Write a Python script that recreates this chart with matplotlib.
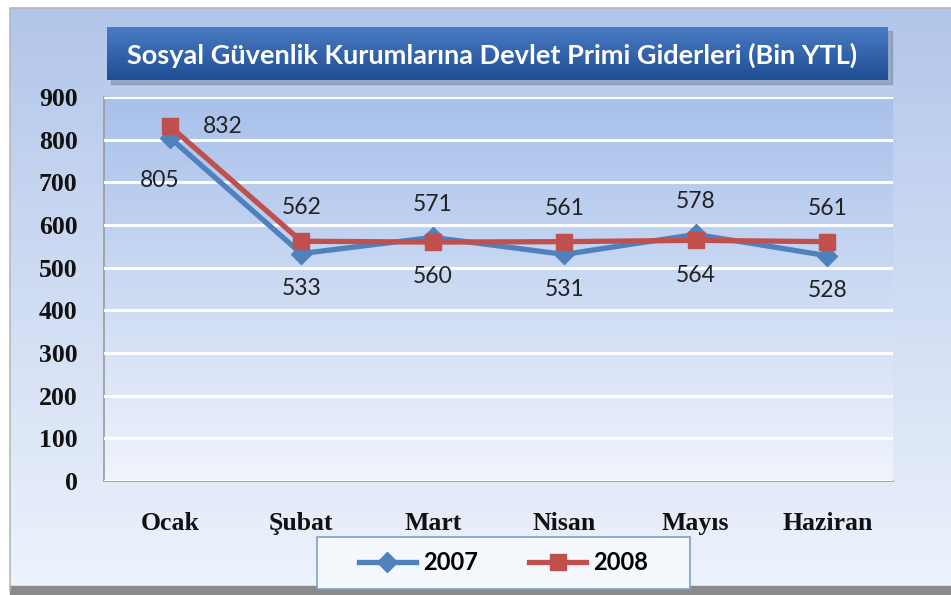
import matplotlib.pyplot as plt
import matplotlib.patches as patches
import numpy as np

months = ['Ocak', 'Şubat', 'Mart', 'Nisan', 'Mayıs', 'Haziran']
y2007 = [805, 533, 571, 531, 578, 528]
y2008 = [832, 562, 560, 561, 564, 561]
title = 'Sosyal Güvenlik Kurumlarına Devlet Primi Giderleri (Bin YTL)'

blue = '#4f81bd'
red = '#c0504d'


def gradient(ax, extent, top, bottom, z=0):
    c0 = np.array(plt.matplotlib.colors.to_rgb(top))
    c1 = np.array(plt.matplotlib.colors.to_rgb(bottom))
    t = np.linspace(0, 1, 256)[:, None, None]
    img = c0 * (1 - t) + c1 * t
    img = np.repeat(img, 2, axis=1)
    ax.imshow(img, extent=extent, aspect='auto', zorder=z, origin='upper')


def main():
    fig = plt.figure(figsize=(9.51, 5.95), dpi=100)
    fig.patch.set_facecolor('white')

    # background layer in pixel coordinates
    bg = fig.add_axes([0, 0, 1, 1])
    bg.set_xlim(0, 951)
    bg.set_ylim(595, 0)
    bg.axis('off')
    gradient(bg, (10, 951, 590, 8), '#b2c6ea', '#eef3fc')
    bg.plot([10, 10, 951], [590, 8, 8], color='#b8b8b8', lw=1.2)
    bg.add_patch(patches.Rectangle((10, 586), 941, 9, color='#8a8a8a'))
    # title box
    bg.add_patch(patches.Rectangle((111, 31), 781, 53, color='#7d8fa8', alpha=0.6, zorder=1))
    gradient(bg, (107, 888, 80, 27), '#4a7cc4', '#1e4d92', z=2)
    bg.text(492, 55, title, color='white', fontsize=19.5, fontweight='bold',
            family='Lato', ha='center', va='center', zorder=3)
    # legend box
    bg.add_patch(patches.Rectangle((317, 537), 373, 52, facecolor='#f4f7fc',
                                   edgecolor='#7f9fcf', lw=1.2, zorder=2))
    bg.set_xlim(0, 951)
    bg.set_ylim(595, 0)

    ax = fig.add_axes([104 / 951, 1 - 481 / 595, 789 / 951, 384 / 595])
    ax.set_facecolor('none')
    gradient(ax, (-0.5, 5.5, 0, 900), '#a8c0ea', '#f0f4fc', z=0)

    x = np.arange(len(months))
    ax.plot(x, y2007, color=blue, lw=3.8, marker='D', markersize=10,
            label='2007', zorder=3)
    ax.plot(x, y2008, color=red, lw=3.8, marker='s', markersize=12,
            label='2008', zorder=4)

    ax.set_xlim(-0.5, 5.5)
    ax.set_ylim(0, 900)
    ax.set_yticks(range(0, 901, 100))
    ax.set_xticks(x)
    ax.set_xticklabels(months)
    ax.grid(axis='y', color='white', lw=2.2, zorder=1)
    ax.set_axisbelow(False)
    ax.tick_params(length=0)
    ax.tick_params(axis='y', pad=19)
    ax.tick_params(axis='x', pad=22)
    for lab in ax.get_xticklabels() + ax.get_yticklabels():
        lab.set_family('Liberation Serif')
        lab.set_fontweight('bold')
        lab.set_fontsize(18.5)
        lab.set_color('#111111')
    for s in ['top', 'right']:
        ax.spines[s].set_visible(False)
    for s in ['left', 'bottom']:
        ax.spines[s].set_color('#9a9a9a')
        ax.spines[s].set_linewidth(1.2)

    lab_kw = dict(textcoords='offset points', ha='center', va='center',
                  fontsize=16.5, family='Lato', color='#222222', zorder=5)
    ax.annotate(str(y2008[0]), (0, y2008[0]), xytext=(38, 0), **lab_kw)
    ax.annotate(str(y2007[0]), (0, y2007[0]), xytext=(-7, -31), **lab_kw)
    for i in range(1, len(months)):
        hi = max(y2007[i], y2008[i])
        lo = min(y2007[i], y2008[i])
        ax.annotate(str(hi), (i, hi), xytext=(0, 24), **lab_kw)
        ax.annotate(str(lo), (i, lo), xytext=(0, -25), **lab_kw)

    fig.legend(loc='center', bbox_to_anchor=(317 / 951, 1 - 589 / 595, 373 / 951, 52 / 595),
               ncol=2, frameon=False, handlelength=2.4, columnspacing=2.2,
               handletextpad=0.3, prop={'family': 'Lato', 'weight': 'bold', 'size': 17})

    fig.savefig('out.png', dpi=100)


if __name__ == '__main__':
    main()
